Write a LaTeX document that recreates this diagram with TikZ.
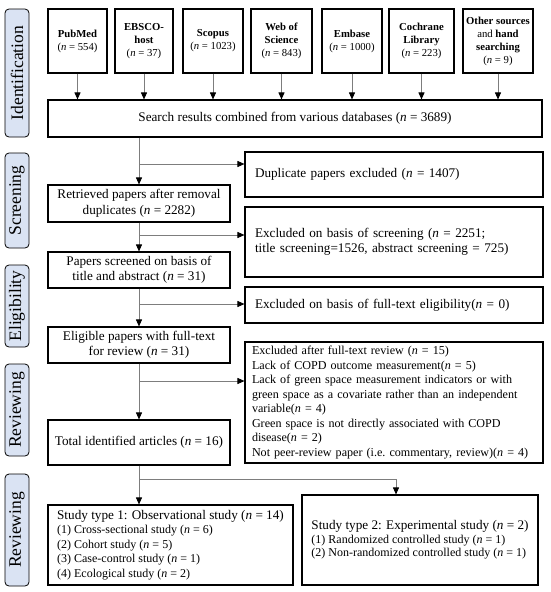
\documentclass[tikz,border=0pt]{standalone}
\usepackage{fontspec}
\setmainfont{Liberation Serif}
\usepackage{xcolor}
\usepackage{tikz}
\usetikzlibrary{arrows.meta}
\definecolor{sidefill}{RGB}{218,227,243}
\definecolor{linegray}{RGB}{125,125,125}
\tikzset{
  side/.style={draw, rounded corners=4pt, fill=sidefill, line width=0.8pt, rotate=90, inner sep=0pt, font=\fontsize{17.5}{20}\selectfont},
  srcbox/.style={draw, line width=1.1pt, minimum height=64pt, align=center, inner sep=1pt, font=\fontsize{10.7}{13}\selectfont},
  mainbox/.style={draw, line width=1.1pt, minimum width=182pt, align=center, inner sep=2pt, font=\fontsize{13.2}{15.5}\selectfont},
  exbox/.style={draw, line width=1.1pt, text width=278pt, inner xsep=10pt, inner ysep=2pt, align=left, font=\fontsize{13.2}{14.5}\selectfont\frenchspacing},
  studybox/.style={draw, line width=1.1pt, inner sep=2pt, align=left, font=\fontsize{12}{14.5}\selectfont},
  arr/.style={draw=linegray, line width=0.9pt, -{Triangle[length=7pt,width=6pt,black]}}
}
\begin{document}
\begin{tikzpicture}[x=1pt, y=-1pt]
        \useasboundingbox (0,0) rectangle (550,592);

        % Stage labels on the left
        \node[side, minimum width=128pt, minimum height=24pt] (lblident) at (17,73) {Identification};
        \node[side, minimum width=95pt, minimum height=24pt] (lblscreen) at (17,200.5) {Screening};
        \node[side, minimum width=82pt, minimum height=24pt] (lblelig) at (17,306) {Eligibility};
        \node[side, minimum width=92pt, minimum height=24pt] (lblreview) at (17,410) {Reviewing};
        \node[side, minimum width=112pt, minimum height=24pt] (lblreviewb) at (17,530) {Reviewing};

        % Identification: databases
        \node[srcbox, minimum width=59pt] (pubmed) at (77.5,41) {\textbf{PubMed}\\(\textit{n} = 554)};
        \node[srcbox, minimum width=58pt] (ebsco) at (144,41) {\textbf{EBSCO-}\\\textbf{host}\\(\textit{n} = 37)};
        \node[srcbox, minimum width=60pt] (scopus) at (213,41) {\textbf{Scopus}\\(\textit{n} = 1023)};
        \node[srcbox, minimum width=61pt] (wos) at (281.5,41) {\textbf{Web of}\\\textbf{Science}\\(\textit{n} = 843)};
        \node[srcbox, minimum width=60pt] (embase) at (352,41) {\textbf{Embase}\\(\textit{n} = 1000)};
        \node[srcbox, minimum width=65pt] (cochrane) at (421.5,41) {\textbf{Cochrane}\\\textbf{Library}\\(\textit{n} = 223)};
        \node[srcbox, minimum width=70pt] (other) at (498,41) {\textbf{Other sources}\\and \textbf{hand}\\\textbf{searching}\\(\textit{n} = 9)};

        \node[mainbox, minimum width=494pt, minimum height=37pt] (combined) at (295,118.5) {Search results combined from various databases (\textit{n} = 3689)};

        % Main column
        \node[mainbox, minimum height=37pt] (retrieved) at (139,203.5) {Retrieved papers after removal\\duplicates (\textit{n} = 2282)};
        \node[mainbox, minimum height=36pt] (screened) at (139,270) {Papers screened on basis of\\title and abstract (\textit{n} = 31)};
        \node[mainbox, minimum height=36pt] (eligible) at (139,345) {Eligible papers with full-text\\for review (\textit{n} = 31)};
        \node[mainbox, minimum height=45pt] (total) at (139,442.5) {Total identified articles (\textit{n} = 16)};

        % Exclusions
        \node[exbox, minimum height=45pt] (dupl) at (394,174.5) {Duplicate papers excluded (\textit{n} = 1407)};
        \node[exbox, minimum height=70pt] (exscreen) at (394,242) {Excluded on basis of screening (\textit{n} = 2251;\\title screening=1526, abstract screening = 725)};
        \node[exbox, minimum height=36pt] (exelig) at (394,305) {Excluded on basis of full-text eligibility(\textit{n} = 0)};
        \node[exbox, minimum height=121pt, text width=284pt, inner xsep=7pt, font=\fontsize{12.1}{14.5}\selectfont\frenchspacing] (exreview) at (394,402.5) {Excluded after full-text review (\textit{n} = 15)\\
            Lack of COPD outcome measurement(\textit{n} = 5)\\
            Lack of green space measurement indicators or with\\
            green space as a covariate rather than an independent\\
            variable(\textit{n} = 4)\\
            Green space is not directly associated with COPD\\
            disease(\textit{n} = 2)\\
            Not peer-review paper (i.e. commentary, review)(\textit{n} = 4)};

        % Study types
        \node[studybox, minimum width=245pt, minimum height=80pt] (studyobs) at (170.5,545) {{\fontsize{13.2}{14.5}\selectfont Study type 1: Observational study (\textit{n} = 14)}\\
            (1) Cross-sectional study (\textit{n} = 6)\\
            (2) Cohort study (\textit{n} = 5)\\
            (3) Case-control study (\textit{n} = 1)\\
            (4) Ecological study (\textit{n} = 2)};
        \node[studybox, minimum width=236pt, minimum height=90pt, font=\fontsize{12}{13.5}\selectfont] (studyexp) at (420,540) {{\fontsize{13.2}{14}\selectfont Study type 2: Experimental study (\textit{n} = 2)}\\
            (1) Randomized controlled study (\textit{n} = 1)\\
            (2) Non-randomized controlled study (\textit{n} = 1)};

        % Arrows from databases
        \draw[arr] (pubmed) -- (pubmed |- combined.north);
        \draw[arr] (ebsco) -- (ebsco |- combined.north);
        \draw[arr] (scopus) -- (scopus |- combined.north);
        \draw[arr] (wos) -- (wos |- combined.north);
        \draw[arr] (embase) -- (embase |- combined.north);
        \draw[arr] (cochrane) -- (cochrane |- combined.north);
        \draw[arr] (other) -- (other |- combined.north);

        % Main flow
        \draw[arr] (retrieved.north |- combined.south) -- (retrieved.north);
        \draw[arr] (retrieved) -- (screened);
        \draw[arr] (screened) -- (eligible);
        \draw[arr] (eligible) -- (total);

        % Branches to exclusions
        \coordinate (tapdupl) at (139,164);
        \coordinate (tapscreen) at (139,235);
        \coordinate (tapelig) at (139,304);
        \coordinate (tapreview) at (139,381);
        \draw[arr] (tapdupl) -- (tapdupl -| dupl.west);
        \draw[arr] (tapscreen) -- (tapscreen -| exscreen.west);
        \draw[arr] (tapelig) -- (tapelig -| exelig.west);
        \draw[arr] (tapreview) -- (tapreview -| exreview.west);

        % Split into study types
        \coordinate (split) at (139,479);
        \coordinate (splitexp) at (396,479);
        \draw[arr] (total.south) -- (total.south |- studyobs.north);
        \draw[arr] (split) -- (splitexp) -- (splitexp |- studyexp.north);
    \end{tikzpicture}
\end{document}
